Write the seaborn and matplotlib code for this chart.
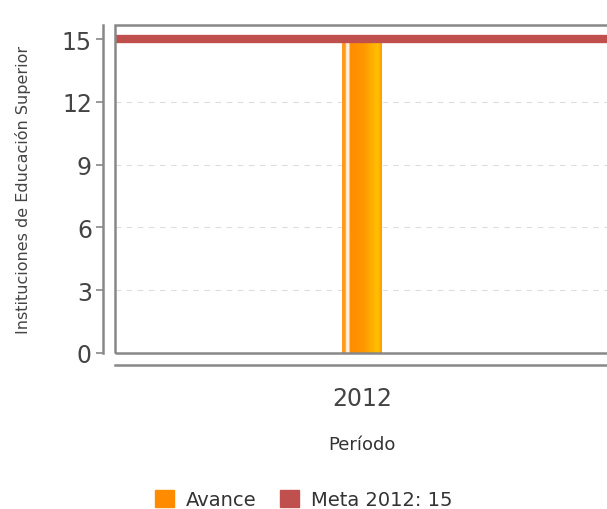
import numpy as np
import pandas as pd
import matplotlib
matplotlib.use("Agg")
import matplotlib.pyplot as plt
from matplotlib.patches import Rectangle, Patch
import seaborn as sns

# Data
periodos = ["2012"]
avance = [15]
meta_valor = 15
meta_label = "Meta 2012: 15"
y_ticks = [0, 3, 6, 9, 12, 15]

df = pd.DataFrame({"Periodo": periodos, "Avance": avance})

sns.set_style("white")
plt.rcParams['font.family'] = ['DejaVu Sans']

fig = plt.figure(figsize=(6.07, 5.10), dpi=100)
ax = fig.add_axes([0.1895, 0.306, 0.814, 0.643])

sns.barplot(data=df, x="Periodo", y="Avance", color="#FF8C00",
            width=0.08, ax=ax, zorder=2)

# gradient fill on the bar
cmap = matplotlib.colors.LinearSegmentedColormap.from_list(
    "av", [(0.0, "#FF9A20"), (0.08, "#FF9A20"), (0.11, "#FFF4E6"),
           (0.17, "#FFF4E6"), (0.2, "#FF8C00"), (0.55, "#FF9800"),
           (0.9, "#FFC000"), (1.0, "#FF9A00")])
for bar in ax.patches:
    x0, w, h = bar.get_x(), bar.get_width(), bar.get_height()
    grad = np.linspace(0, 1, 128).reshape(1, -1)
    im = ax.imshow(grad, extent=[x0, x0 + w, 0, h], aspect="auto",
                   cmap=cmap, zorder=3, interpolation="bilinear")
    im.set_clip_path(bar)

# meta line
ax.axhline(meta_valor, color="#C0504D", lw=6, zorder=4)

ax.set_xlim(-0.5, 0.5)
ax.set_ylim(0, 15.67)
ax.set_yticks(y_ticks)
ax.yaxis.grid(True, ls=(0, (5, 5)), color="#dddddd", lw=0.8)
ax.set_axisbelow(True)

# box around plot area
ax.add_patch(Rectangle((0, 0), 1, 1, transform=ax.transAxes, fill=False,
                       ec="#888888", lw=1.8, zorder=5, clip_on=False))

for s in ["top", "right"]:
    ax.spines[s].set_visible(False)
ax.spines["left"].set_position(("outward", 8.6))
ax.spines["bottom"].set_position(("outward", 8.6))
for s in ["left", "bottom"]:
    ax.spines[s].set_color("#888888")
    ax.spines[s].set_linewidth(1.8)

ax.tick_params(axis="y", length=5, width=1.2, color="#888888",
               labelsize=17, labelcolor="#444444", pad=3, left=True)
ax.tick_params(axis="x", length=0, labelsize=17, labelcolor="#444444", pad=15)

ax.set_xlabel("Período", fontsize=13, color="#333333", labelpad=18)
ax.set_ylabel("Instituciones de Educación Superior", fontsize=11.5,
              color="#444444", labelpad=22)

handles = [Patch(color="#FF8C00", label="Avance"),
           Patch(color="#C0504D", label=meta_label)]
fig.legend(handles=handles, loc="lower center", bbox_to_anchor=(0.5, -0.035),
           ncol=2, frameon=False, fontsize=14, handlelength=1.0,
           handleheight=1.0, handletextpad=0.6, columnspacing=1.2,
           labelcolor="#333333")

fig.savefig("out.png", dpi=100)
